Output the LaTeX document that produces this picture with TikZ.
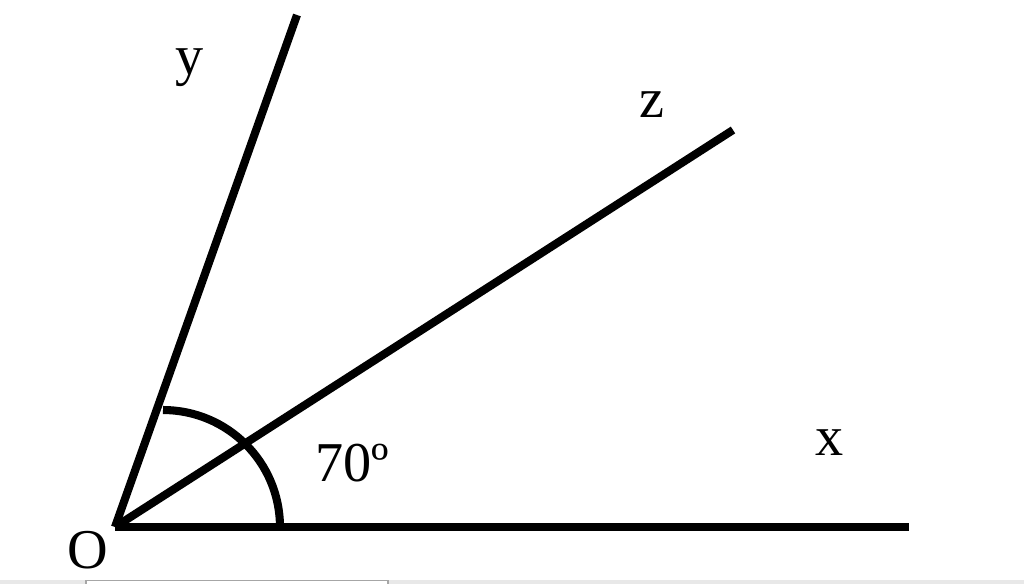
\documentclass[tikz,border=0pt]{standalone}
\usepackage{fontspec}
\setmainfont{Liberation Serif}

\begin{document}
\begin{tikzpicture}[x=0.02cm, y=-0.02cm,
  ray/.style={line width=4.6pt},
  lbl/.style={font=\fontsize{32}{38}\selectfont, inner sep=0pt}]

  \useasboundingbox (0,0) rectangle (1024,584);

  % Points of the angle
  \coordinate (O) at (115,527);
  \coordinate (X) at (909,527);
  \coordinate (Y) at (297,15);
  \coordinate (Z) at (733,130);
  \coordinate (C) at (163,527);

  % Rays
  \draw[ray] (O) -- (X);
  \draw[ray] (O) -- (Y);
  \draw[ray] (O) -- (Z);

  % Angle mark
  \draw[ray] (C) ++(2.34cm,0) arc[start angle=0, end angle=90, radius=2.34cm];

  % Labels
  \node[lbl] (lO) at (88,550) {O};
  \node[lbl] (lx) at (830,443) {x};
  \node[lbl] (ly) at (190,68) {y};
  \node[lbl] (lz) at (652,105) {z};
  \node[lbl] (la) at (352,463) {70º};

  % Bottom strip
  \fill[black!9] (0,580) rectangle (1024,584);
  \draw[black!35, fill=white, line width=0.6pt] (86,584) -- (86,580.5) -- (388,580.5) -- (388,584);

\end{tikzpicture}
\end{document}
